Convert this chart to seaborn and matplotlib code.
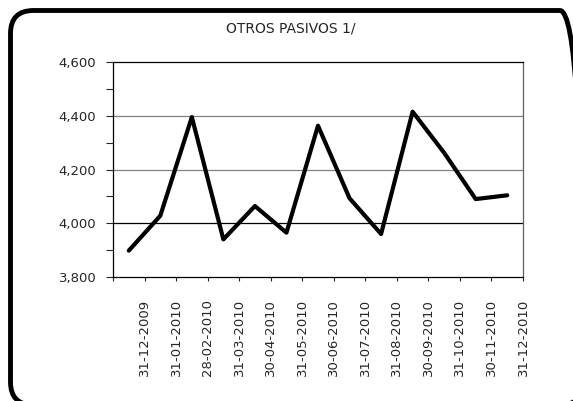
import numpy as np
import pandas as pd
import seaborn as sns
import matplotlib
matplotlib.use("Agg")
import matplotlib.pyplot as plt
from matplotlib.patches import FancyBboxPatch
from matplotlib.ticker import FuncFormatter, MultipleLocator

dates = ["31-12-2009", "31-01-2010", "28-02-2010", "31-03-2010", "30-04-2010",
         "31-05-2010", "30-06-2010", "31-07-2010", "31-08-2010", "30-09-2010",
         "31-10-2010", "30-11-2010", "31-12-2010"]
values = [3898, 4028, 4395, 3940, 4064, 3965, 4363, 4093, 3960, 4415, 4262, 4090, 4104]
title = "OTROS PASIVOS 1/"

sns.set_style("white")
plt.rcParams['font.family'] = ['DejaVu Sans']

fig = plt.figure(figsize=(5.73, 4.01), dpi=100)
ax = fig.add_axes([113/573, 1-277/401, (523-113)/573, (277-62)/401])

df = pd.DataFrame({"pos": np.arange(len(values)), "val": values})
sns.lineplot(data=df, x="pos", y="val", ax=ax, color="black", linewidth=3.0)

ax.set_xlim(-0.5, len(values) - 0.5)
ax.set_ylim(3800, 4600)

for yv, c in [(4000, "black"), (4200, "#808080"), (4400, "#808080")]:
    ax.axhline(yv, color=c, linewidth=0.9, zorder=0)

ax.set_xticks(np.arange(len(dates)) + 0.5)
ax.set_xticklabels(dates, rotation=90, fontsize=9.5)
ax.set_xticks(np.arange(-0.5, len(dates), 1.0), minor=True)
ax.yaxis.set_major_locator(MultipleLocator(200))
ax.yaxis.set_minor_locator(MultipleLocator(100))
ax.yaxis.set_major_formatter(FuncFormatter(lambda v, p: f"{int(v):,}"))
ax.tick_params(axis="y", which="both", direction="out", length=5, width=0.8,
               left=True, labelsize=9.5, pad=7)
ax.tick_params(axis="x", which="both", direction="out", length=3, width=0.8,
               bottom=True, pad=13)
ax.set_xlabel("")
ax.set_ylabel("")

for s in ["left", "bottom", "top"]:
    ax.spines[s].set_color("black")
    ax.spines[s].set_linewidth(0.9)
ax.spines["right"].set_color("#606060")
ax.spines["right"].set_linewidth(0.9)

fig.text(0.507, 1 - 29/401, title, ha="center", va="center", fontsize=10)

# outer rounded frame, drawn in a pixel-scaled overlay (y measured from bottom)
ov = fig.add_axes([0, 0, 1, 1], zorder=-1)
ov.set_xlim(0, 573)
ov.set_ylim(0, 401)
ov.axis("off")
ov.patch.set_alpha(0)
box = FancyBboxPatch((10.5, 401 - 405), 583 - 10.5, 405 - 10.5,
                     boxstyle="round,pad=0,rounding_size=23",
                     fill=False, edgecolor="black", linewidth=3.5, clip_on=False)
ov.add_patch(box)

fig.savefig("out.png", dpi=100)
